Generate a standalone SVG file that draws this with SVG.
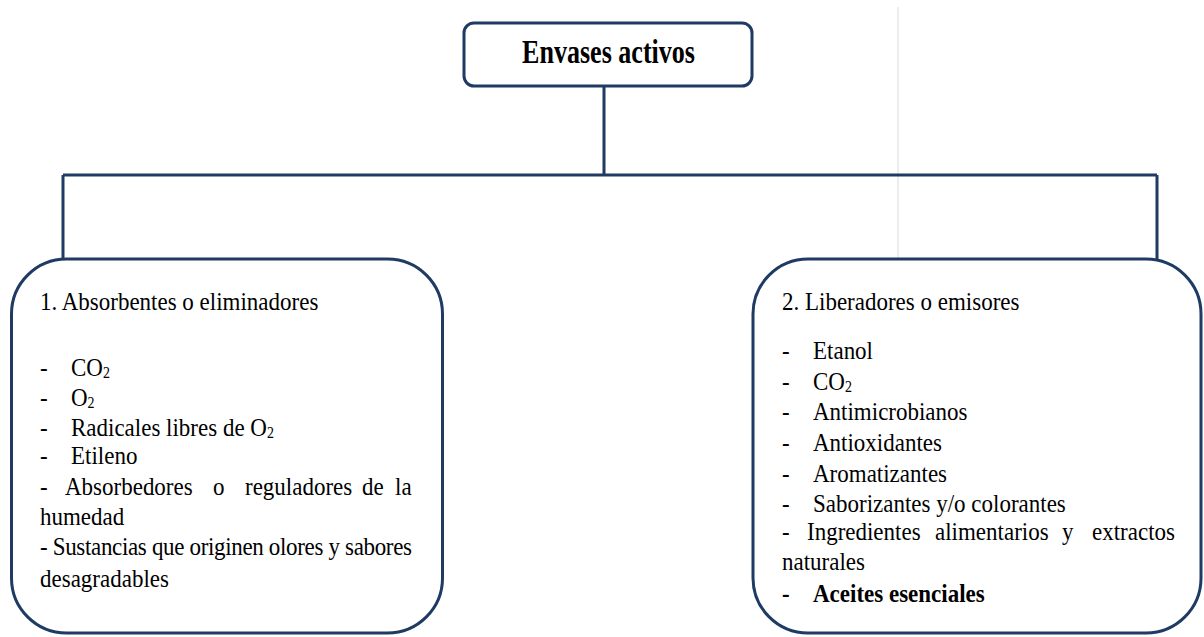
<svg xmlns="http://www.w3.org/2000/svg" width="1204" height="637" viewBox="0 0 1204 637">
<style>
.box{fill:#fff;stroke:#1f3a63;stroke-width:3}
.con{fill:none;stroke:#1f3a63;stroke-width:3}
.t{font-family:"Liberation Serif","Times New Roman",serif;font-size:23px;fill:#000}
.b{font-weight:bold}
.s{font-size:14px}
</style>
<rect width="1204" height="637" fill="#fff"/>
<line x1="898" y1="7" x2="898" y2="258" stroke="#e6e6e6" stroke-width="1.5"/>
<g id="connectors">
<path class="con" d="M604 86 V175 M63 175 H1157 M63 175 V259 M1157 175 V259"/>
</g>
<g id="node-root">
<rect class="box" x="464" y="23" width="288" height="63" rx="10"/>
<text class="t b" transform="translate(608.5,63) scale(1,1.3)" x="0" y="0" text-anchor="middle" style="font-size:26px" textLength="173" lengthAdjust="spacingAndGlyphs">Envases activos</text>
</g>
<g id="node-absorbentes">
<rect class="box" x="11.5" y="259" width="431" height="374" rx="55"/>
<text class="t" transform="translate(0,310) scale(1,1.12)"><tspan x="40">1. Absorbentes o eliminadores</tspan></text>
<text class="t" transform="translate(0,376) scale(1,1.12)"><tspan x="40">-</tspan><tspan x="71">CO</tspan><tspan class="s" dy="2">2</tspan></text>
<text class="t" transform="translate(0,406) scale(1,1.12)"><tspan x="40">-</tspan><tspan x="71">O</tspan><tspan class="s" dy="2">2</tspan></text>
<text class="t" transform="translate(0,436) scale(1,1.12)"><tspan x="40">-</tspan><tspan x="71">Radicales libres de O</tspan><tspan class="s" dy="2">2</tspan></text>
<text class="t" transform="translate(0,464) scale(1,1.12)"><tspan x="40">-</tspan><tspan x="71">Etileno</tspan></text>
<text class="t" transform="translate(0,495) scale(1,1.12)"><tspan x="40">-</tspan><tspan x="65">Absorbedores</tspan><tspan x="213">o</tspan><tspan x="245">reguladores</tspan><tspan x="362">de</tspan><tspan x="395">la</tspan></text>
<text class="t" transform="translate(0,525) scale(1,1.12)"><tspan x="40">humedad</tspan></text>
<text class="t" transform="translate(0,555) scale(1,1.12)" x="40" textLength="372" lengthAdjust="spacing">- Sustancias que originen olores y sabores</text>
<text class="t" transform="translate(0,587) scale(1,1.12)"><tspan x="40">desagradables</tspan></text>
</g>
<g id="node-liberadores">
<rect class="box" x="753" y="259" width="448" height="374" rx="55"/>
<text class="t" transform="translate(0,310) scale(1,1.12)"><tspan x="782">2. Liberadores o emisores</tspan></text>
<text class="t" transform="translate(0,359) scale(1,1.12)"><tspan x="782">-</tspan><tspan x="813">Etanol</tspan></text>
<text class="t" transform="translate(0,390) scale(1,1.12)"><tspan x="782">-</tspan><tspan x="813">CO</tspan><tspan class="s" dy="2">2</tspan></text>
<text class="t" transform="translate(0,420) scale(1,1.12)"><tspan x="782">-</tspan><tspan x="813">Antimicrobianos</tspan></text>
<text class="t" transform="translate(0,451) scale(1,1.12)"><tspan x="782">-</tspan><tspan x="813">Antioxidantes</tspan></text>
<text class="t" transform="translate(0,482) scale(1,1.12)"><tspan x="782">-</tspan><tspan x="813">Aromatizantes</tspan></text>
<text class="t" transform="translate(0,512) scale(1,1.12)"><tspan x="782">-</tspan><tspan x="813">Saborizantes y/o colorantes</tspan></text>
<text class="t" transform="translate(0,540) scale(1,1.12)"><tspan x="782">-</tspan><tspan x="807">Ingredientes</tspan><tspan x="935">alimentarios</tspan><tspan x="1062">y</tspan><tspan x="1092">extractos</tspan></text>
<text class="t" transform="translate(0,570) scale(1,1.12)"><tspan x="782">naturales</tspan></text>
<text class="t b" transform="translate(0,602) scale(1,1.12)"><tspan x="782">-</tspan><tspan x="813">Aceites esenciales</tspan></text>
</g>
</svg>
